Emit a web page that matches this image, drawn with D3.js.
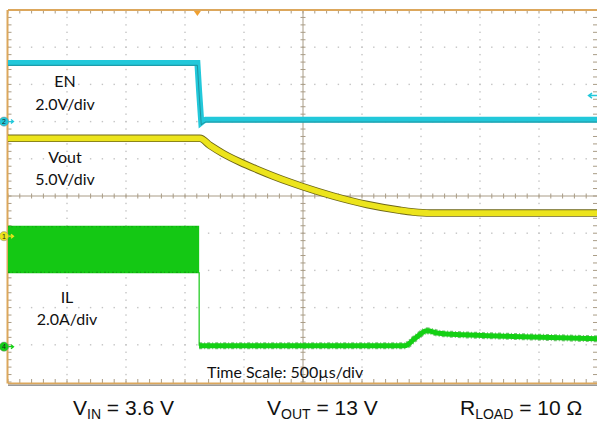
<!DOCTYPE html>
<html>
<head>
<meta charset="utf-8">
<script src="https://cdn.jsdelivr.net/npm/d3@7"></script>
<style>
  html, body { margin: 0; padding: 0; background: #fff; }
  svg { display: block; }
</style>
</head>
<body>
<svg id="scope" width="597" height="422"></svg>
<script>
// Time axis (µs) and divisions of the scope screen
const timeTicks = [-2500, -2000, -1500, -1000, -500, 0, 500, 1000, 1500, 2000, 2500];
const divTicks = [-5, -4, -3, -2, -1, 0, 1, 2, 3, 4, 5];

// Channel 2 : EN (V)
const enTime  = [-2500, -895, -880, -862, -848, -825, 2500];
const enVolts = [3.15, 3.15, 1.6, -0.05, 0.02, 0.1, 0.1];

// Channel 1 : Vout (V)
const voutTime  = [-2500, -873, -788, -678, -534, -390, -254, -110, 0, 254, 542, 822, 932, 1076, 2500];
const voutVolts = [13.15, 13.15, 12.19, 11.12, 9.97, 8.97, 8.09, 7.24, 6.64, 5.40, 4.26, 3.48, 3.25, 3.1, 3.1];

// Channel 4 : IL (A) - switching envelope before EN falls
const ilBandTime = [-2500, -880];
const ilBandHigh = [6.5, 6.5];
const ilBandLow  = [4.0, 4.0];
// IL after shutdown
const ilTime = [-880, 864, 950, 1051, 1150, 1356, 1780, 2500];
const ilAmps = [0.05, 0.05, 0.45, 0.85, 0.72, 0.64, 0.55, 0.42];

// Channel settings: ground position (div) and scale (units/div)
const chEN   = { offset: 2.0,   perDiv: 2 };
const chVout = { offset: -1.08, perDiv: 5 };
const chIL   = { offset: -4.05, perDiv: 2 };
const trigLevelEN = 1.4;

const svg = d3.select("#scope");
const x = d3.scaleLinear().domain([-2500, 2500]).range([8, 598]);
const yDiv = d3.scaleLinear().domain([-5, 5]).range([382, 10]);
const yCh = ch => v => yDiv(ch.offset + v / ch.perDiv);

const frameColor = "#dca75c";
const axisColor = "#a99c86";
const dotColor = "#c4c4c4";

// Graticule dots along the division lines
const g = svg.append("g");
const minorX = d3.range(-2500, 2500.01, 100);
const minorY = d3.range(-5, 5.01, 0.2);
timeTicks.forEach(t => {
  if (t === 0 || t === -2500) return;
  g.selectAll(null).data(minorY).join("rect")
    .attr("x", x(t) - 0.7).attr("y", d => yDiv(d) - 0.7)
    .attr("width", 1.4).attr("height", 1.4).attr("fill", dotColor);
});
divTicks.forEach(dv => {
  if (dv === 0 || dv === 5 || dv === -5) return;
  g.selectAll(null).data(minorX).join("rect")
    .attr("x", d => x(d) - 0.7).attr("y", yDiv(dv) - 0.7)
    .attr("width", 1.4).attr("height", 1.4).attr("fill", dotColor);
});

// Center axes with minor ticks
g.append("line").attr("x1", x(-2500)).attr("x2", x(2500))
  .attr("y1", yDiv(0)).attr("y2", yDiv(0)).attr("stroke", axisColor).attr("stroke-width", 1);
g.append("line").attr("x1", x(0)).attr("x2", x(0))
  .attr("y1", yDiv(5)).attr("y2", yDiv(-5)).attr("stroke", axisColor).attr("stroke-width", 1);
g.selectAll(null).data(minorX).join("line")
  .attr("x1", d => x(d)).attr("x2", d => x(d))
  .attr("y1", yDiv(0) - 2.5).attr("y2", yDiv(0) + 2.5)
  .attr("stroke", axisColor).attr("stroke-width", 1);
g.selectAll(null).data(minorY).join("line")
  .attr("x1", x(0) - 2.5).attr("x2", x(0) + 2.5)
  .attr("y1", d => yDiv(d)).attr("y2", d => yDiv(d))
  .attr("stroke", axisColor).attr("stroke-width", 1);

// Frame edges with ticks
g.selectAll(null).data(minorX).join("line")
  .attr("x1", d => x(d)).attr("x2", d => x(d))
  .attr("y1", yDiv(5)).attr("y2", yDiv(5) + 3.5)
  .attr("stroke", axisColor).attr("stroke-width", 1);
g.selectAll(null).data(minorX).join("line")
  .attr("x1", d => x(d)).attr("x2", d => x(d))
  .attr("y1", yDiv(-5) + 1).attr("y2", yDiv(-5) - 3)
  .attr("stroke", axisColor).attr("stroke-width", 1);
g.selectAll(null).data(minorY).join("line")
  .attr("x1", x(-2500)).attr("x2", x(-2500) + 3.5)
  .attr("y1", d => yDiv(d)).attr("y2", d => yDiv(d))
  .attr("stroke", axisColor).attr("stroke-width", 1);
g.selectAll(null).data(minorY).join("line")
  .attr("x1", 597).attr("x2", 593)
  .attr("y1", d => yDiv(d)).attr("y2", d => yDiv(d))
  .attr("stroke", axisColor).attr("stroke-width", 1);

g.append("line").attr("x1", x(-2500)).attr("x2", 597)
  .attr("y1", yDiv(5)).attr("y2", yDiv(5)).attr("stroke", frameColor).attr("stroke-width", 2);
g.append("line").attr("x1", x(-2500) - 0.5).attr("x2", x(-2500) - 0.5)
  .attr("y1", yDiv(5)).attr("y2", yDiv(-5) + 1.5).attr("stroke", frameColor).attr("stroke-width", 2);
g.append("line").attr("x1", x(-2500)).attr("x2", 597)
  .attr("y1", yDiv(-5) + 1.5).attr("y2", yDiv(-5) + 1.5).attr("stroke", frameColor).attr("stroke-width", 2);
g.append("line").attr("x1", x(-2500)).attr("x2", 597)
  .attr("y1", yDiv(-5) + 3.3).attr("y2", yDiv(-5) + 3.3).attr("stroke", "#9a9a9a").attr("stroke-width", 1.4);

// Trigger position marker
const trigT = -895;
svg.append("path")
  .attr("d", `M${x(trigT) - 3.5},${yDiv(5) + 1} L${x(trigT) + 3.5},${yDiv(5) + 1} L${x(trigT)},${yDiv(5) + 6} Z`)
  .attr("fill", "#f0a030");

// Traces
const line = (ch) => d3.line().x(d => x(d[0])).y(d => yCh(ch)(d[1]));

// IL switching envelope
const ilBand = ilBandTime.map((t, i) => [t, ilBandLow[i], ilBandHigh[i]]);
svg.append("path")
  .attr("d", d3.area().x(d => x(d[0])).y0(d => yCh(chIL)(d[1]) + 1).y1(d => yCh(chIL)(d[2]))(ilBand))
  .attr("fill", "#14c814");
svg.append("path")
  .attr("d", d3.line().x(d => x(d[0])).y(d => yCh(chIL)(d[2]) + 1)(ilBand))
  .attr("stroke", "#0b8e0b").attr("stroke-width", 1).attr("stroke-dasharray", "1,2,2,3").attr("fill", "none").attr("opacity", 0.5);
svg.append("path")
  .attr("d", d3.line().x(d => x(d[0])).y(d => yCh(chIL)(d[1]))(ilBand))
  .attr("stroke", "#0b7a0b").attr("stroke-width", 1).attr("stroke-dasharray", "2,2,1,3").attr("fill", "none").attr("opacity", 0.6);
// drop of IL at shutdown
svg.append("line")
  .attr("x1", x(ilTime[0])).attr("x2", x(ilTime[0]))
  .attr("y1", yCh(chIL)(ilBandLow[1])).attr("y2", yCh(chIL)(ilAmps[0]))
  .attr("stroke", "#14c814").attr("stroke-width", 1.2);
const ilData = ilTime.map((t, i) => [t, ilAmps[i]]);
const ilCurve = d3.line().curve(d3.curveMonotoneX).x(d => x(d[0])).y(d => yCh(chIL)(d[1]));
svg.append("path").attr("d", ilCurve(ilData))
  .attr("stroke", "#0e8f0e").attr("stroke-width", 7).attr("fill", "none")
  .attr("stroke-dasharray", "3,2,1,2").attr("opacity", 0.55);
svg.append("path").attr("d", ilCurve(ilData))
  .attr("stroke", "#14d014").attr("stroke-width", 5).attr("fill", "none");

// Vout
const voutData = voutTime.map((t, i) => [t, voutVolts[i]]);
const voutCurve = d3.line().curve(d3.curveMonotoneX).x(d => x(d[0])).y(d => yCh(chVout)(d[1]));
svg.append("path").attr("d", voutCurve(voutData))
  .attr("stroke", "#6e6718").attr("stroke-width", 7.5).attr("fill", "none");
svg.append("path").attr("d", voutCurve(voutData))
  .attr("stroke", "#ece41c").attr("stroke-width", 5.8).attr("fill", "none");

// EN
const enData = enTime.map((t, i) => [t, enVolts[i]]);
svg.append("path").attr("d", line(chEN)(enData))
  .attr("stroke", "#22c8da").attr("stroke-width", 6).attr("fill", "none");
svg.append("path").attr("d", line(chEN)(enData))
  .attr("transform", "translate(0,2.3)")
  .attr("stroke", "#1a6f78").attr("stroke-width", 1).attr("fill", "none").attr("opacity", 0.6);

// Channel ground markers
const markers = [
  { label: "2", ch: chEN, color: "#22c8da" },
  { label: "1", ch: chVout, color: "#ece41c" },
  { label: "4", ch: chIL, color: "#14d014" }
];
markers.forEach(m => {
  const yy = yCh(m.ch)(0);
  svg.append("path").attr("d", `M8,${yy} L13,${yy} M11,${yy - 2} L13.5,${yy} L11,${yy + 2}`)
    .attr("stroke", m.color).attr("stroke-width", 1.3).attr("fill", "none");
  svg.append("circle").attr("cx", 4).attr("cy", yy).attr("r", 4.6)
    .attr("fill", m.color).attr("stroke", "#888").attr("stroke-width", 0.5);
  svg.append("text").attr("x", 4).attr("y", yy + 2.6).attr("text-anchor", "middle")
    .attr("font-family", "Liberation Sans, Arial, sans-serif").attr("font-size", 7)
    .attr("fill", "#222").text(m.label);
});

// EN trigger level arrow
const ty = yCh(chEN)(trigLevelEN);
svg.append("path").attr("d", `M589,${ty} L597,${ty} M592,${ty - 2.5} L588.5,${ty} L592,${ty + 2.5}`)
  .attr("stroke", "#22c8da").attr("stroke-width", 1.4).attr("fill", "none");

// Channel labels
const lab = { family: "Lato, 'Open Sans', sans-serif", size: 16 };
const chLabels = [
  ["EN", 65, 87], ["2.0V/div", 65, 110],
  ["Vout", 65, 163], ["5.0V/div", 65, 185],
  ["IL", 67, 303], ["2.0A/div", 67, 325]
];
chLabels.forEach(([t, lx, ly]) => {
  svg.append("text").attr("x", lx).attr("y", ly).attr("text-anchor", "middle")
    .attr("font-family", lab.family).attr("font-size", lab.size).attr("fill", "#111").text(t);
});
svg.append("text").attr("x", 207).attr("y", 378)
  .attr("font-family", lab.family).attr("font-size", lab.size).attr("fill", "#111")
  .text("Time Scale: 500µs/div");

// Test conditions
const cond = [
  ["V", "IN", " = 3.6 V", 73],
  ["V", "OUT", " = 13 V", 267],
  ["R", "LOAD", " = 10 Ω", 460]
];
cond.forEach(([a, sub, rest, cx]) => {
  const t = svg.append("text").attr("x", cx).attr("y", 415)
    .attr("font-family", "'Liberation Sans', Arial, sans-serif").attr("font-size", 21).attr("fill", "#111");
  t.append("tspan").text(a);
  t.append("tspan").attr("font-size", 14).attr("dy", 3.5).text(sub);
  t.append("tspan").attr("dy", -3.5).text(rest);
});
</script>
</body>
</html>
